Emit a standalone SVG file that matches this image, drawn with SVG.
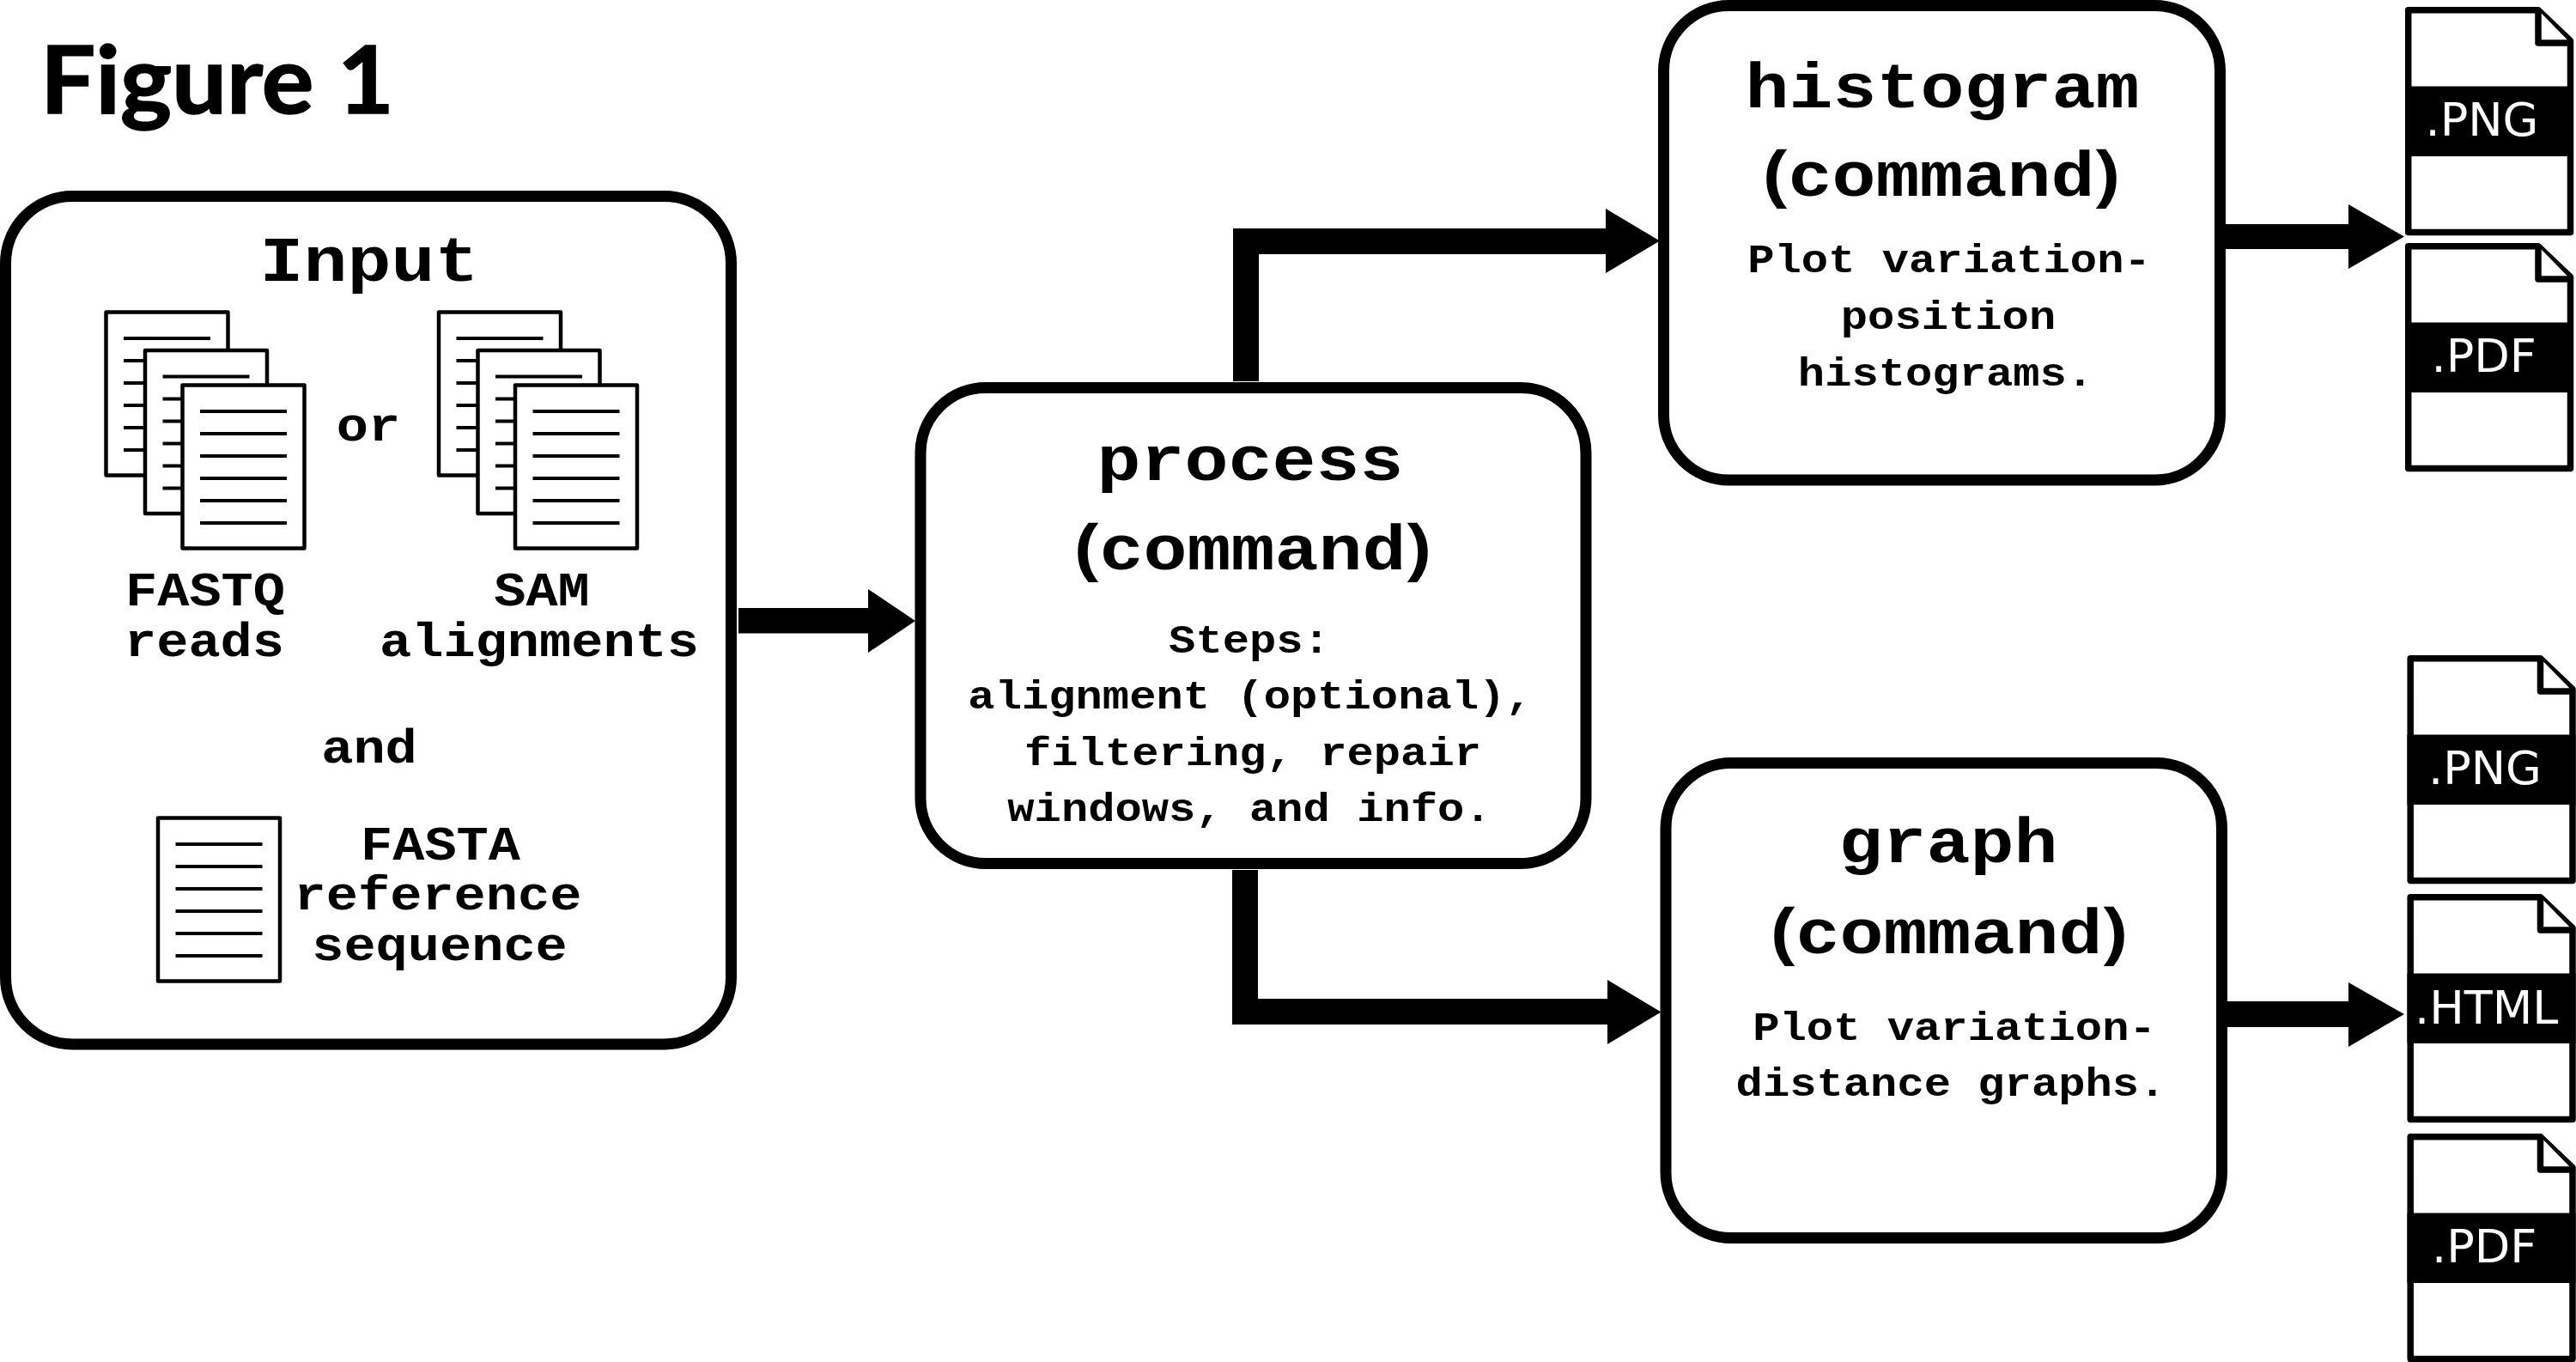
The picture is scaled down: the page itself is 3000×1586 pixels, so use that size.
<svg xmlns="http://www.w3.org/2000/svg" xmlns:xlink="http://www.w3.org/1999/xlink" width="3000" height="1586" viewBox="0 0 3000 1586">
<style>
.box{fill:#fff;stroke:#000;stroke-width:13}
.t{font-family:"Liberation Mono","Courier New",monospace;font-weight:700;fill:#000;text-anchor:middle}
.l{font-size:75px}.m{font-size:55px}.s{font-size:46px}
.ext{font-family:"DejaVu Sans",sans-serif;font-size:54px;fill:#fff}
.fig{font-family:Lato,"Noto Sans",sans-serif;font-weight:700;font-size:110px;fill:#000;stroke:#000;stroke-width:1.6}
.pg{fill:#fff;stroke:#000;stroke-width:4.5;stroke-linejoin:round}
.ln{stroke:#000;stroke-width:3.8}
.fo{fill:#fff;stroke:#000;stroke-width:7.5;stroke-linejoin:round}
.ar{fill:#000}
</style>
<defs>
<g id="page">
<rect class="pg" width="142" height="190"/>
<path class="ln" d="M20.5 30.5H121.5M20.5 56.5H121.5M20.5 82.5H121.5M20.5 108.5H121.5M20.5 134.5H121.5M20.5 160.5H121.5"/>
</g>
<g id="stack">
<use xlink:href="#page" href="#page" x="123.5" y="363.5"/>
<use xlink:href="#page" href="#page" x="169" y="408"/>
<use xlink:href="#page" href="#page" x="212.5" y="448.5"/>
</g>
<g id="file">
<path class="fo" d="M3.7 3.7H155L192.5 39.5V262.5H3.7Z"/>
<path class="fo" d="M155 3.7V42H192.5"/>
<rect x="0" y="92.5" width="196" height="81.5" fill="#000"/>
</g>
</defs>
<rect width="3000" height="1586" fill="#fff"/>
<text class="fig" x="47" y="132" textLength="412" lengthAdjust="spacingAndGlyphs">Figure 1</text>
<g id="connectors">
<polygon class="ar" points="860,708 1011,708 1011,686 1066,723 1011,760 1011,737.5 860,737.5"/>
<polygon class="ar" points="1436,444 1436,266 1870,266 1870,243 1933,280.5 1870,318 1870,296 1466,296 1466,444"/>
<polygon class="ar" points="1435,1013 1465,1013 1465,1163 1872,1163 1872,1141 1934.5,1178.5 1872,1216 1872,1193 1435,1193"/>
<polygon class="ar" points="2590,261 2735,261 2735,238 2800,275.5 2735,313 2735,290 2590,290"/>
<polygon class="ar" points="2592,1166 2735,1166 2735,1144 2800,1181 2735,1219 2735,1196 2592,1196"/>
</g>
<g id="input">
<rect class="box" x="6.5" y="228.5" width="845" height="987.5" rx="78" ry="78"/>
<text class="t l" x="430" y="327" textLength="255" lengthAdjust="spacingAndGlyphs">Input</text>
<use xlink:href="#stack" href="#stack"/>
<use xlink:href="#stack" href="#stack" x="387.5"/>
<text class="t m" x="429" y="513" textLength="74.4" lengthAdjust="spacingAndGlyphs">or</text>
<text class="t m" x="239" y="705" textLength="186" lengthAdjust="spacingAndGlyphs">FASTQ</text>
<text class="t m" x="238" y="764" textLength="186" lengthAdjust="spacingAndGlyphs">reads</text>
<text class="t m" x="631" y="705" textLength="111.6" lengthAdjust="spacingAndGlyphs">SAM</text>
<text class="t m" x="628" y="764" textLength="372" lengthAdjust="spacingAndGlyphs">alignments</text>
<text class="t m" x="430" y="888" textLength="111.6" lengthAdjust="spacingAndGlyphs">and</text>
<use xlink:href="#page" href="#page" x="184" y="952.5"/>
<text class="t m" x="513" y="1001" textLength="186" lengthAdjust="spacingAndGlyphs">FASTA</text>
<text class="t m" x="510" y="1059" textLength="334.8" lengthAdjust="spacingAndGlyphs">reference</text>
<text class="t m" x="512" y="1118" textLength="297.6" lengthAdjust="spacingAndGlyphs">sequence</text>
</g>
<g id="process">
<rect class="box" x="1072" y="451.5" width="775" height="554" rx="76" ry="76"/>
<text class="t l" x="1456" y="559" textLength="357" lengthAdjust="spacingAndGlyphs">process</text>
<text class="t l" transform="translate(1459 663) scale(1.133 1)">(<tspan dx="-10">command</tspan><tspan dx="-10">)</tspan></text>
<text class="t s" x="1455" y="760" textLength="187.8" lengthAdjust="spacingAndGlyphs">Steps:</text>
<text class="t s" x="1456" y="824.5" textLength="657.3" lengthAdjust="spacingAndGlyphs">alignment (optional),</text>
<text class="t s" x="1459" y="890.5" textLength="532" lengthAdjust="spacingAndGlyphs">filtering, repair</text>
<text class="t s" x="1455" y="956" textLength="563.4" lengthAdjust="spacingAndGlyphs">windows, and info.</text>
</g>
<g id="histogram">
<rect class="box" x="1937.5" y="6.5" width="648" height="552.5" rx="76" ry="76"/>
<text class="t l" x="2262" y="125" textLength="459" lengthAdjust="spacingAndGlyphs">histogram</text>
<text class="t l" transform="translate(2261 228) scale(1.133 1)">(<tspan dx="-10">command</tspan><tspan dx="-10">)</tspan></text>
<text class="t s" x="2270" y="317" textLength="469.5" lengthAdjust="spacingAndGlyphs">Plot variation-</text>
<text class="t s" x="2269" y="383" textLength="250.4" lengthAdjust="spacingAndGlyphs">position</text>
<text class="t s" x="2266" y="449" textLength="344.3" lengthAdjust="spacingAndGlyphs">histograms.</text>
</g>
<g id="graph">
<rect class="box" x="1940" y="888.5" width="647.5" height="553" rx="76" ry="76"/>
<text class="t l" x="2269" y="1003.5" textLength="255" lengthAdjust="spacingAndGlyphs">graph</text>
<text class="t l" transform="translate(2270 1110) scale(1.133 1)">(<tspan dx="-10">command</tspan><tspan dx="-10">)</tspan></text>
<text class="t s" x="2276" y="1210.5" textLength="469.5" lengthAdjust="spacingAndGlyphs">Plot variation-</text>
<text class="t s" x="2272" y="1275.5" textLength="500.8" lengthAdjust="spacingAndGlyphs">distance graphs.</text>
</g>
<g id="hist-png"><use xlink:href="#file" href="#file" x="2801" y="8"/><text class="ext" x="2824.5" y="158">.PNG</text></g>
<g id="hist-pdf"><use xlink:href="#file" href="#file" x="2801" y="283"/><text class="ext" x="2831.5" y="433">.PDF</text></g>
<g id="graph-png"><use xlink:href="#file" href="#file" x="2803.5" y="763"/><text class="ext" x="2828" y="913">.PNG</text></g>
<g id="graph-html"><use xlink:href="#file" href="#file" x="2803.5" y="1041"/><text class="ext" x="2812" y="1192">.HTML</text></g>
<g id="graph-pdf"><use xlink:href="#file" href="#file" x="2803.5" y="1320"/><text class="ext" x="2832" y="1470">.PDF</text></g>
</svg>
